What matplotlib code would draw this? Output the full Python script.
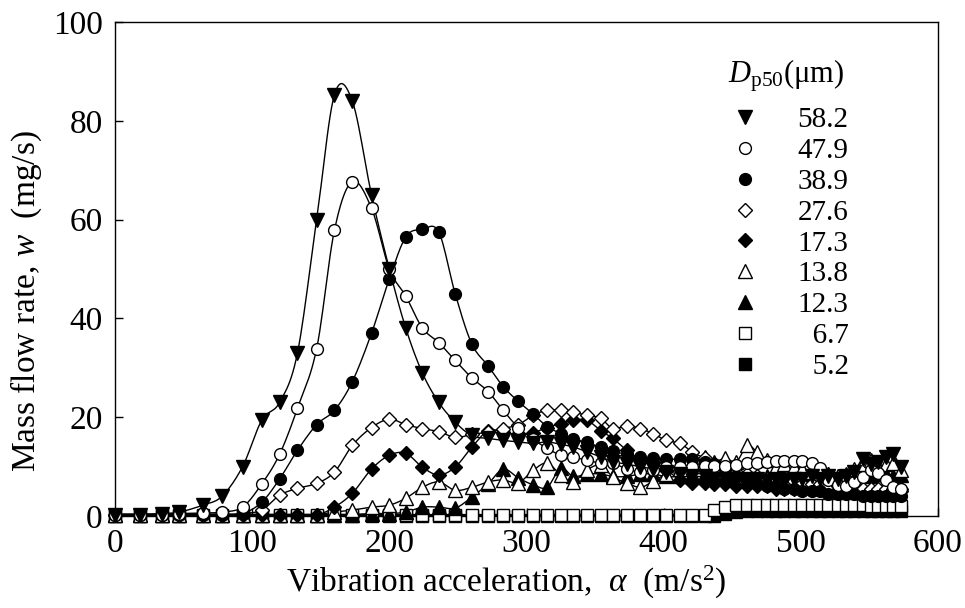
import numpy as np
import matplotlib
matplotlib.use('Agg')
from matplotlib import pyplot as plt
from matplotlib.lines import Line2D

plt.rcParams['font.family'] = ['Liberation Serif', 'DejaVu Serif']
plt.rcParams['mathtext.fontset'] = 'custom'
plt.rcParams['mathtext.rm'] = 'Liberation Serif'
plt.rcParams['mathtext.it'] = 'Liberation Serif:italic'

# vibration acceleration (m/s2), shared by all runs
accel = [0, 18, 34, 47, 64, 78, 93, 107, 120, 133,
         147, 160, 173, 187, 200, 212, 224, 236, 248, 260,
         272, 283, 294, 305, 315, 325, 334, 344, 354, 363,
         373, 383, 392, 402, 412, 421, 430, 437, 445, 453,
         461, 468, 475, 482, 488, 495, 501, 508, 514, 520,
         527, 533, 539, 545, 551, 556, 562, 567, 573]

# mass flow rate (mg/s) for each median particle size
w_582 = [0.3, 0.3, 0.5, 0.8, 2.2, 4.0, 10.0, 19.4, 23.0, 33.0,
         60.0, 85.3, 84.0, 65.0, 50.0, 38.0, 29.0, 23.0, 19.0, 16.3,
         15.7, 15.3, 15.0, 14.7, 15.0, 14.5, 14.0, 13.0, 12.0, 11.0,
         10.5, 10.0, 9.5, 9.0, 8.5, 8.0, 8.0, 7.5, 7.5, 7.0,
         7.5, 7.5, 7.0, 7.5, 7.0, 7.5, 7.5, 8.0, 7.5, 8.0,
         7.5, 8.0, 9.0, 11.5, 10.5, 11.0, 12.0, 12.5, 10.0]
w_479 = [0.3, 0.3, 0.3, 0.5, 0.6, 0.8, 1.8, 6.5, 12.5, 21.8,
         33.9, 57.9, 67.7, 62.3, 50.0, 44.5, 38.1, 35.1, 31.5, 28.0,
         25.2, 21.4, 17.9, 15.5, 13.7, 12.3, 11.9, 11.3, 10.7, 10.7,
         9.5, 8.9, 9.3, 9.9, 9.9, 9.9, 10.1, 10.1, 10.1, 10.3,
         10.7, 10.7, 10.9, 11.1, 11.1, 11.1, 11.1, 10.7, 9.7, 7.3,
         6.3, 6.0, 6.9, 7.9, 9.3, 8.7, 7.3, 5.8, 5.5]
w_389 = [0.3, 0.3, 0.3, 0.3, 0.3, 0.3, 0.5, 2.8, 7.5, 13.3,
         18.5, 21.4, 27.2, 37.0, 48.0, 56.5, 58.0, 57.5, 45.0, 34.9,
         30.4, 26.2, 23.2, 20.6, 18.1, 16.7, 15.5, 14.9, 13.9, 13.1,
         12.5, 11.9, 11.7, 11.5, 11.5, 11.5, 11.0, 10.5, 9.5, 8.0,
         7.0, 6.5, 6.0, 6.0, 5.5, 5.5, 5.0, 5.0, 5.0, 4.5,
         4.5, 4.5, 4.5, 4.0, 4.0, 4.0, 4.0, 4.0, 4.0]
w_276 = [0.3, 0.3, 0.3, 0.3, 0.3, 0.3, 0.5, 1.2, 4.2, 5.6,
         6.6, 8.9, 14.3, 17.9, 19.6, 18.5, 17.7, 17.1, 15.9, 16.5,
         17.0, 17.7, 18.5, 20.4, 21.4, 21.4, 21.0, 20.4, 19.8, 17.7,
         18.3, 17.7, 16.7, 15.3, 14.7, 12.9, 11.7, 10.5, 9.5, 9.0,
         8.5, 8.0, 7.5, 7.5, 7.0, 7.0, 6.5, 6.5, 6.5, 6.0,
         6.0, 6.0, 6.0, 5.5, 5.5, 5.5, 5.5, 5.5, 5.5]
w_173 = [0.2, 0.2, 0.2, 0.2, 0.2, 0.2, 0.2, 0.2, 0.2, 0.2,
         0.2, 1.8, 4.6, 9.5, 12.3, 12.7, 9.9, 8.3, 9.9, 13.9,
         17.3, 17.0, 16.5, 16.9, 17.9, 18.7, 19.4, 19.4, 17.3, 15.7,
         13.3, 11.3, 10.9, 9.3, 7.3, 6.7, 6.7, 6.5, 6.5, 6.0,
         6.0, 6.0, 6.0, 5.5, 5.5, 5.5, 5.5, 5.5, 5.5, 5.5,
         5.0, 5.0, 5.0, 5.0, 5.0, 5.0, 5.0, 5.0, 5.0]
w_138 = [0.3, 0.3, 0.3, 0.3, 0.3, 0.3, 0.3, 0.3, 0.3, 0.3,
         0.3, 0.8, 1.2, 1.8, 2.2, 3.6, 5.8, 6.9, 5.2, 5.8,
         6.9, 7.3, 6.7, 9.3, 10.7, 8.3, 6.9, 9.3, 10.3, 7.9,
         6.7, 5.8, 7.0, 8.5, 9.5, 10.5, 11.9, 11.0, 11.7, 11.0,
         14.3, 12.9, 11.3, 10.0, 10.5, 10.0, 9.5, 9.0, 8.5, 8.5,
         8.0, 8.5, 9.5, 10.5, 11.3, 10.0, 10.5, 10.7, 9.3]
w_123 = [0.3, 0.3, 0.3, 0.3, 0.3, 0.3, 0.3, 0.3, 0.3, 0.3,
         0.3, 0.3, 0.3, 0.5, 0.5, 0.8, 1.8, 1.8, 1.6, 3.8,
         6.5, 9.5, 7.7, 6.3, 5.8, 9.7, 8.0, 8.5, 8.5, 8.0,
         8.0, 8.5, 8.5, 8.0, 8.0, 8.5, 8.5, 8.0, 8.0, 8.5,
         8.5, 8.0, 8.0, 8.5, 8.0, 8.0, 8.5, 8.0, 8.0, 8.5,
         8.0, 8.0, 8.5, 8.5, 8.0, 8.5, 8.5, 8.0, 8.3]
w_67 = [0.3, 0.3, 0.3, 0.3, 0.3, 0.3, 0.3, 0.3, 0.3, 0.3,
        0.3, 0.3, 0.3, 0.3, 0.3, 0.3, 0.3, 0.3, 0.3, 0.3,
        0.3, 0.3, 0.3, 0.3, 0.3, 0.3, 0.3, 0.3, 0.3, 0.3,
        0.3, 0.3, 0.3, 0.3, 0.3, 0.3, 0.3, 1.2, 1.8, 2.2,
        2.2, 2.2, 2.2, 2.2, 2.2, 2.2, 2.2, 2.2, 2.2, 2.2,
        2.2, 2.2, 2.2, 2.2, 2.0, 2.0, 2.0, 2.0, 2.0]
w_52 = [0.1, 0.1, 0.1, 0.1, 0.1, 0.1, 0.1, 0.1, 0.1, 0.1,
        0.1, 0.1, 0.1, 0.1, 0.1, 0.1, 0.1, 0.1, 0.1, 0.1,
        0.1, 0.1, 0.1, 0.1, 0.1, 0.1, 0.1, 0.1, 0.1, 0.1,
        0.1, 0.1, 0.1, 0.1, 0.1, 0.1, 0.1, 0.1, 0.5, 0.8,
        1.0, 1.0, 1.0, 1.0, 1.0, 1.0, 1.0, 1.0, 1.0, 1.0,
        1.0, 1.0, 1.0, 1.0, 1.0, 1.0, 1.0, 1.0, 1.0]

labels = ['58.2', '47.9', '38.9', '27.6', '17.3', '13.8', '12.3', '\u20076.7', '\u20075.2']
series = [w_582, w_479, w_389, w_276, w_173, w_138, w_123, w_67, w_52]
markers = ['v', 'o', 'o', 'D', 'D', '^', '^', 's', 's']
faces = ['k', 'w', 'k', 'w', 'k', 'w', 'k', 'w', 'k']
sizes = [9.5, 8.5, 8.5, 7, 7, 9.5, 9.5, 8, 8]


def smooth(x, y, n=12):
    # catmull-rom curve through the measured points, just for the guide line
    x = np.asarray(x, float)
    y = np.asarray(y, float)
    px = np.concatenate([[2*x[0]-x[1]], x, [2*x[-1]-x[-2]]])
    py = np.concatenate([[2*y[0]-y[1]], y, [2*y[-1]-y[-2]]])
    t = np.linspace(0, 1, n, endpoint=False)[:, None]
    def seg(p):
        p0, p1, p2, p3 = p[:-3], p[1:-2], p[2:-1], p[3:]
        return 0.5*(2*p1 + (-p0+p2)*t + (2*p0-5*p1+4*p2-p3)*t**2 + (-p0+3*p1-3*p2+p3)*t**3)
    xs = seg(px).T.ravel()
    ys = seg(py).T.ravel()
    return np.append(xs, x[-1]), np.append(ys, y[-1])


fig = plt.figure(figsize=(9.65, 6.08), dpi=100)
ax = fig.add_axes([0.1192, 0.1513, 0.8528, 0.8125])

for w in series:
    sx, sy = smooth(accel, w)
    ax.plot(sx, sy, color='k', lw=1.0, zorder=2)
handles = []
for w, m, fc, ms in zip(series, markers, faces, sizes):
    handles.append(Line2D([], [], ls='none', marker=m, mfc=fc, mec='k', mew=1.0, ms=ms))
# smallest particles drawn first so the big ones sit on top
for k in range(len(series) - 1, -1, -1):
    ax.plot(accel, series[k], ls='none', marker=markers[k], mfc=faces[k], mec='k',
            mew=1.0, ms=sizes[k], zorder=3, clip_on=False)

ax.set_xlim(0, 600)
ax.set_ylim(0, 100)
ax.set_xticks(np.arange(0, 601, 100))
ax.set_yticks(np.arange(0, 101, 20))
ax.tick_params(direction='in', length=6, width=1, labelsize=24, pad=9)
for s in ax.spines.values():
    s.set_linewidth(1.0)

ax.set_xlabel(r'Vibration acceleration,  $\alpha$  (m/s$^2$)', fontsize=24)
ax.set_ylabel(r'Mass flow rate, $w$  (mg/s)', fontsize=24)
ax.xaxis.set_label_coords(0.475, -0.097)
ax.yaxis.set_label_coords(-0.086, 0.435)

ax.text(0.816, 0.891, r'$D_{\mathrm{p50}}$(μm)', transform=ax.transAxes,
        ha='center', va='center', fontsize=22)
leg = ax.legend(handles, labels, loc='upper left',
                bbox_to_anchor=(0.748, 0.828), frameon=False, fontsize=21,
                handlelength=1.0, handletextpad=1.3,
                labelspacing=0.15, borderpad=0.0, borderaxespad=0.0)

fig.savefig('out.png', dpi=100)
